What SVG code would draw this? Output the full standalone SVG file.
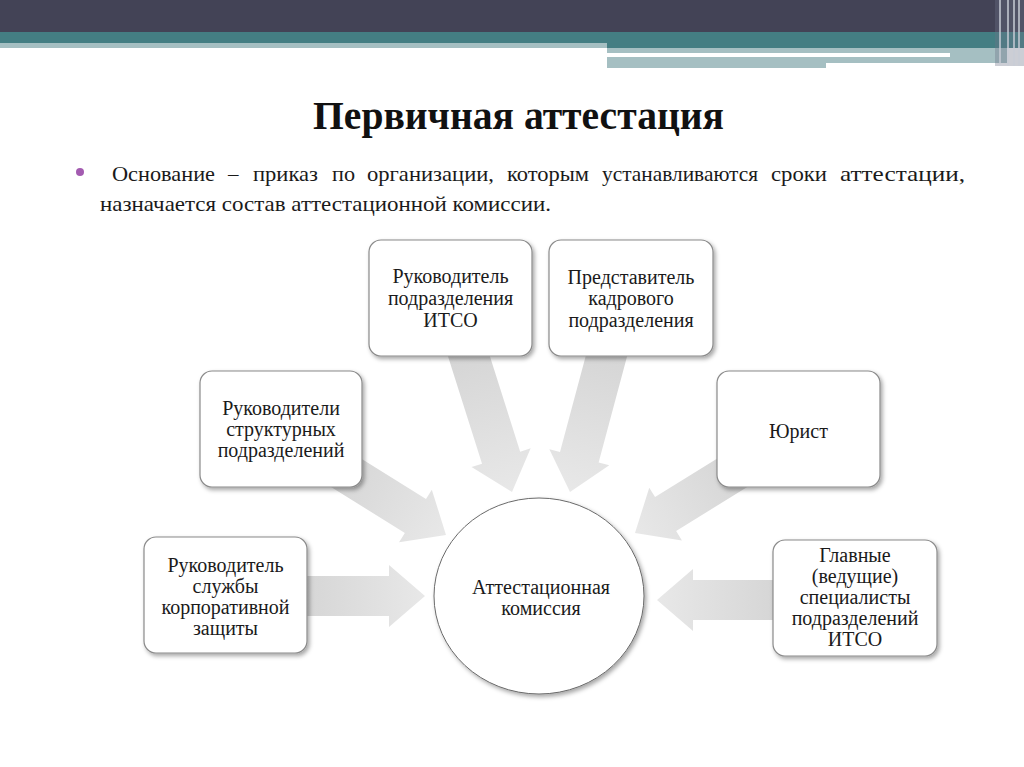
<svg xmlns="http://www.w3.org/2000/svg" width="1024" height="767" viewBox="0 0 1024 767">
<defs>
<style>
.box{fill:#fff;stroke:#8a8a8a;stroke-width:1.2;filter:url(#sh)}
.lbl{font-family:"Liberation Serif","Times New Roman",serif;font-size:20px;fill:#1a1a1a;text-anchor:middle}
.arr{fill:url(#ag)}
</style>
<filter id="sh" x="-20%" y="-20%" width="140%" height="140%">
<feDropShadow dx="2" dy="2.5" stdDeviation="2" flood-color="#000" flood-opacity="0.35"/>
</filter>
<linearGradient id="ag" x1="0" y1="0" x2="1" y2="0">
<stop offset="0" stop-color="#d5d5d5"/>
<stop offset="1" stop-color="#e8e8e8"/>
</linearGradient>
</defs>
<rect width="1024" height="767" fill="#fff"/>
<g id="header">
<rect x="0" y="0" width="1024" height="32" fill="#434356"/>
<rect x="0" y="32" width="1024" height="16" fill="#447e83"/>
<rect x="0" y="43" width="607" height="5" fill="#a5bfc2"/>
<rect x="607" y="48" width="400" height="15" fill="#a5bfc2"/>
<rect x="607" y="53" width="343" height="4" fill="#fff"/>
<rect x="607" y="57" width="219" height="11" fill="#a5bfc2"/>
<rect x="995" y="0" width="29" height="66" fill="#6d7486" opacity="0.35"/>
<g stroke="#c9cdd6" stroke-width="1.5">
<line x1="1000" y1="0" x2="1000" y2="64"/>
<line x1="1008" y1="0" x2="1008" y2="66"/>
<line x1="1014" y1="0" x2="1014" y2="66"/>
<line x1="1019" y1="0" x2="1019" y2="66"/>
</g>
</g>
<text x="313" y="129" font-family="Liberation Serif, Times New Roman, serif" font-weight="bold" font-size="39" fill="#111" textLength="411" lengthAdjust="spacingAndGlyphs">Первичная аттестация</text>
<g id="bullet">
<circle cx="80" cy="172" r="4" fill="#a35bb0"/>
<text y="181" font-family="Liberation Serif, Times New Roman, serif" font-size="21" fill="#1a1a1a"><tspan x="112" textLength="103" lengthAdjust="spacingAndGlyphs">Основание</tspan><tspan x="228">–</tspan><tspan x="253" textLength="65" lengthAdjust="spacingAndGlyphs">приказ</tspan><tspan x="332" textLength="23" lengthAdjust="spacingAndGlyphs">по</tspan><tspan x="367" textLength="127" lengthAdjust="spacingAndGlyphs">организации,</tspan><tspan x="507" textLength="82" lengthAdjust="spacingAndGlyphs">которым</tspan><tspan x="602" textLength="156" lengthAdjust="spacingAndGlyphs">устанавливаются</tspan><tspan x="771" textLength="56" lengthAdjust="spacingAndGlyphs">сроки</tspan><tspan x="840" textLength="125" lengthAdjust="spacingAndGlyphs">аттестации,</tspan></text>
<text x="100" y="211" font-family="Liberation Serif, Times New Roman, serif" font-size="21" fill="#1a1a1a" textLength="451" lengthAdjust="spacingAndGlyphs">назначается состав аттестационной комиссии.</text>
</g>
<g id="connectors">
<polygon class="arr" points="0,0 -36,-31 -36,-20 -149,-20 -149,20 -36,20 -36,31" transform="translate(512,492) rotate(72.4)"/>
<polygon class="arr" points="0,0 -36,-31 -36,-20 -147,-20 -147,20 -36,20 -36,31" transform="translate(570,492) rotate(105)"/>
<polygon class="arr" points="0,0 -36,-31 -36,-20 -131,-20 -131,20 -36,20 -36,31" transform="translate(446,535) rotate(31.9)"/>
<polygon class="arr" points="0,0 -36,-31 -36,-20 -123,-20 -123,20 -36,20 -36,31" transform="translate(635,533) rotate(148.2)"/>
<polygon class="arr" points="0,0 -36,-31 -36,-20 -125,-20 -125,20 -36,20 -36,31" transform="translate(425,596)"/>
<polygon class="arr" points="0,0 -36,-31 -36,-20 -123,-20 -123,20 -36,20 -36,31" transform="translate(657,600) rotate(180)"/>
</g>
<g id="n1">
<rect class="box" x="369" y="240" width="163" height="116" rx="12"/>
<text class="lbl" x="450.5" y="283">Руководитель</text>
<text class="lbl" x="450.5" y="305">подразделения</text>
<text class="lbl" x="450.5" y="327">ИТСО</text>
</g>
<g id="n2">
<rect class="box" x="549" y="240" width="164" height="116" rx="12"/>
<text class="lbl" x="631" y="284">Представитель</text>
<text class="lbl" x="631" y="305">кадрового</text>
<text class="lbl" x="631" y="327">подразделения</text>
</g>
<g id="n3">
<rect class="box" x="200" y="371" width="162" height="116" rx="12"/>
<text class="lbl" x="281" y="415">Руководители</text>
<text class="lbl" x="281" y="436">структурных</text>
<text class="lbl" x="281" y="457">подразделений</text>
</g>
<g id="n4">
<rect class="box" x="717" y="371" width="163" height="116" rx="12"/>
<text class="lbl" x="798.5" y="438">Юрист</text>
</g>
<g id="n5">
<rect class="box" x="144" y="537" width="163" height="116" rx="12"/>
<text class="lbl" x="225.5" y="572">Руководитель</text>
<text class="lbl" x="225.5" y="593">службы</text>
<text class="lbl" x="225.5" y="614">корпоративной</text>
<text class="lbl" x="225.5" y="635">защиты</text>
</g>
<g id="n6">
<rect class="box" x="773" y="540" width="164" height="116" rx="12"/>
<text class="lbl" x="855" y="562">Главные</text>
<text class="lbl" x="855" y="583">(ведущие)</text>
<text class="lbl" x="855" y="604">специалисты</text>
<text class="lbl" x="855" y="625">подразделений</text>
<text class="lbl" x="855" y="646">ИТСО</text>
</g>
<g id="center">
<ellipse cx="539" cy="596" rx="105" ry="98" fill="#fff" stroke="#6a6a6a" stroke-width="1" filter="url(#sh)"/>
<text class="lbl" x="541" y="594">Аттестационная</text>
<text class="lbl" x="541" y="615">комиссия</text>
</g>
</svg>
